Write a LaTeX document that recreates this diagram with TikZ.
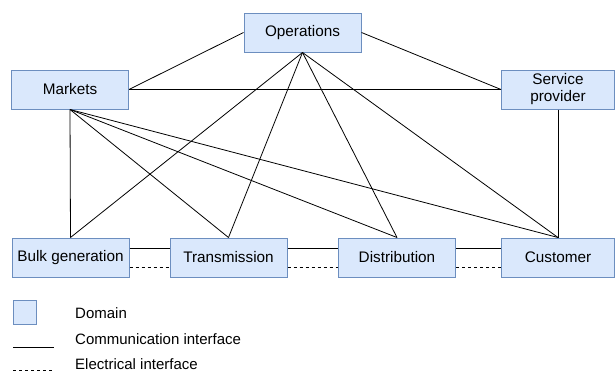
\documentclass[tikz,border=0pt]{standalone}
\usepackage{fontspec}
\setmainfont{Liberation Sans}
\definecolor{dfill}{HTML}{DAE8FC}
\definecolor{ddraw}{HTML}{6C8EBF}
\begin{document}
\begin{tikzpicture}[x=1pt,y=-1pt,
  dom/.style={draw=ddraw,fill=dfill,line width=1pt,minimum width=117pt,minimum height=39pt,inner sep=0pt,align=center,font=\fontsize{15.3}{17}\selectfont},
  comm/.style={draw=black,line width=0.8pt},
  elec/.style={draw=black,line width=0.8pt,dash pattern=on 3pt off 3pt},
  lab/.style={anchor=west,inner sep=0pt,font=\fontsize{15}{17}\selectfont}]
\useasboundingbox (0,0) rectangle (616,372);
\node[dom] (ops) at (302.5,32.5) {Operations};
\node[dom] (mkt) at (70,89.5) {Markets};
\node[dom,minimum width=113pt] (sp) at (558,89.5) {Service\\provider};
\node[dom] (bulk) at (70.5,257.5) {Bulk generation};
\node[dom] (trans) at (228.5,257.5) {Transmission};
\node[dom] (dist) at (397,257.5) {Distribution};
\node[dom,minimum width=113pt] (cust) at (558,257.5) {Customer};
% communication
\draw[comm] (ops.west) -- (mkt.east);
\draw[comm] (ops.east) -- (sp.west);
\draw[comm] (mkt.east) -- (sp.west);
\foreach \t in {bulk,trans,dist,cust} {
  \draw[comm] (ops.south) -- (\t.north);
  \draw[comm] (mkt.south) -- (\t.north);
}
\draw[comm] (sp.south) -- (cust.north);
\draw[comm] ([yshift=9.5pt]bulk.east) -- ([yshift=9.5pt]trans.west);
\draw[comm] ([yshift=9.5pt]trans.east) -- ([yshift=9.5pt]dist.west);
\draw[comm] ([yshift=9.5pt]dist.east) -- ([yshift=9.5pt]cust.west);
\draw[elec] ([yshift=-9.5pt]bulk.east) -- ([yshift=-9.5pt]trans.west);
\draw[elec] ([yshift=-9.5pt]trans.east) -- ([yshift=-9.5pt]dist.west);
\draw[elec] ([yshift=-9.5pt]dist.east) -- ([yshift=-9.5pt]cust.west);
% legend
\node[draw=ddraw,fill=dfill,line width=1pt,minimum width=23pt,minimum height=24pt,inner sep=0pt] (lgbox) at (24.5,312) {};
\node[lab] (lgdom) at (75,313) {Domain};
\node[lab] (lgcomm) at (75,339.5) {Communication interface};
\node[lab] (lgelec) at (75,364.5) {Electrical interface};
\coordinate (c1) at (13,347.5);
\coordinate (c2) at (54,347.5);
\coordinate (e1) at (13,370);
\coordinate (e2) at (54,370);
\draw[comm] (c1) -- (c2);
\draw[elec] (e1) -- (e2);
\end{tikzpicture}
\end{document}
